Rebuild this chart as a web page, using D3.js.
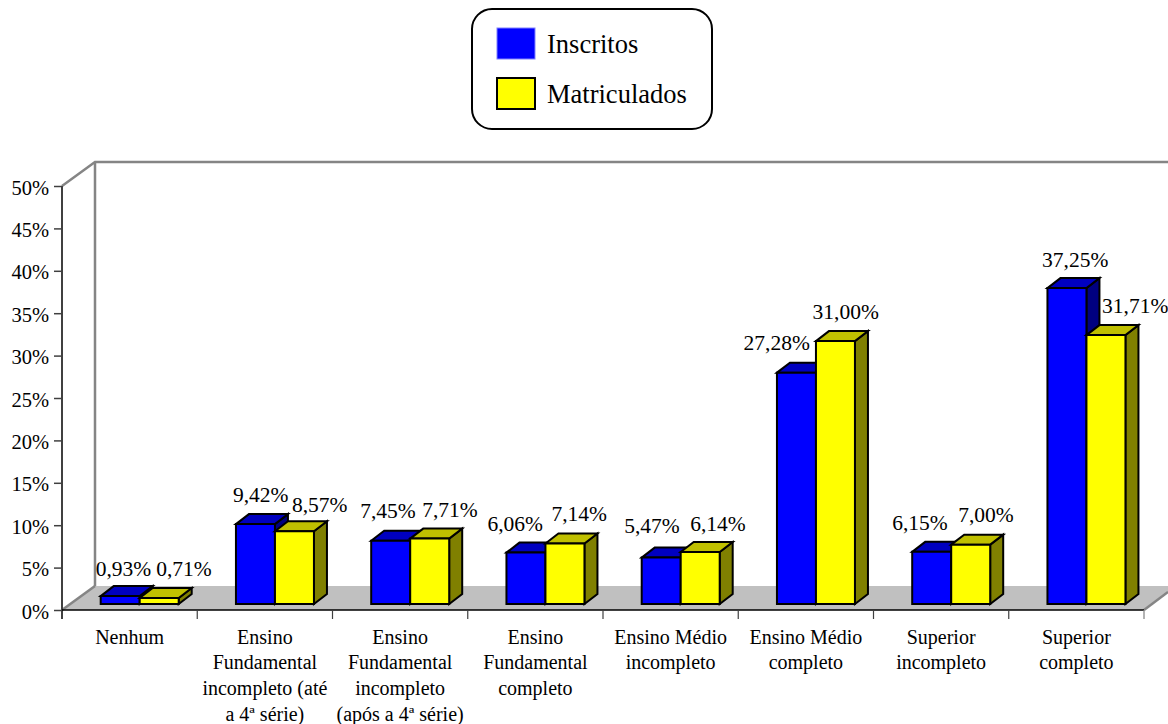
<!DOCTYPE html>
<html><head><meta charset="utf-8">
<script src="https://cdn.jsdelivr.net/npm/d3@7/dist/d3.min.js"></script>
<style>html,body{margin:0;padding:0;background:#fff;overflow:hidden}svg{display:block}text{font-family:"Liberation Serif","Times New Roman",serif;fill:#000}</style>
</head><body><svg id="c" width="1168" height="724"></svg>
<script>
const categories = [
  ["Nenhum"],
  ["Ensino","Fundamental","incompleto (até","a 4ª série)"],
  ["Ensino","Fundamental","incompleto","(após a 4ª série)"],
  ["Ensino","Fundamental","completo"],
  ["Ensino Médio","incompleto"],
  ["Ensino Médio","completo"],
  ["Superior","incompleto"],
  ["Superior","completo"]
];
const seriesNames = ["Inscritos","Matriculados"];
const inscritos = [0.93,9.42,7.45,6.06,5.47,27.28,6.15,37.25];
const matriculados = [0.71,8.57,7.71,7.14,6.14,31.00,7.00,31.71];
const yTicks = [0,5,10,15,20,25,30,35,40,45,50];
const fmt = v => v.toFixed(2).replace(".",",") + "%";

// layout
const L=62,R=1144,B=610,T=186,wx=33,wy=24,bx=13,by=10,baseLift=6;
const x=d3.scaleBand().domain(d3.range(categories.length)).range([L,R]);
const inner=d3.scaleBand().domain([0,1]).range([38.7,38.7+78]);
const y=d3.scaleLinear().domain([0,50]).range([B,T]);
const svg=d3.select("#c");
const line=d3.line();

// walls and floor
svg.append("path").attr("d",line([[L,B],[L+wx,B-wy],[1177,B-wy],[R,B]])+"Z").attr("fill","#c0c0c0");
const wall=[[[L,T],[L+wx,T-wy],[1170,T-wy]],[[L+wx,T-wy],[L+wx,B-wy]],[[L,B],[L+wx,B-wy]],[[R,B],[1168,B-18]]];
svg.selectAll(".w").data(wall).enter().append("path").attr("d",d=>line(d)).attr("fill","none").attr("stroke","#858585").attr("stroke-width",2.5);

// axes
const ya=d3.axisLeft(y).tickValues(yTicks).tickFormat(d=>d+"%").tickSize(8).tickSizeOuter(0);
const gy=svg.append("g").attr("transform",`translate(${L},0)`).call(ya);
gy.selectAll("line").attr("stroke","#404040").attr("stroke-width",1.5);
gy.select(".domain").attr("stroke","#404040").attr("stroke-width",2).attr("d",`M0,${T}V${B+9}`);
gy.selectAll("text").attr("font-size",20.5).attr("fill","#000").attr("font-family","Liberation Serif").attr("x",-13).attr("dy","0.39em");

svg.append("line").attr("x1",L).attr("x2",R).attr("y1",B).attr("y2",B).attr("stroke","#000").attr("stroke-width",1.5);
svg.selectAll(".t").data(d3.range(1,categories.length+1)).enter().append("line")
  .attr("x1",i=>L+i*x.step()).attr("x2",i=>L+i*x.step()).attr("y1",B).attr("y2",B+9)
  .attr("stroke",i=>i===categories.length?"#808080":"#404040").attr("stroke-width",1.2);

// category labels
const cat=svg.selectAll(".c").data(categories).enter().append("text")
  .attr("text-anchor","middle").attr("font-size",20);
cat.selectAll("tspan").data((d,i)=>d.map((s,j)=>({s,j,i}))).enter().append("tspan")
  .attr("x",d=>x(d.i)+x.step()/2).attr("y",d=>643.5+d.j*25.8).text(d=>d.s);

// bars
const palettes=[{f:"#0000ff",t:"#0000c0",s:"#000080"},{f:"#ffff00",t:"#c0c000",s:"#808000"}];
const series=[inscritos,matriculados];
categories.forEach((c,i)=>{
  series.forEach((vals,k)=>{
    const p=palettes[k],x0=x(i)+inner(k),w=inner.bandwidth(),y1=B-baseLift,y0=y(vals[i])-baseLift;
    const g=svg.append("g").attr("stroke","#000").attr("stroke-width",2).attr("stroke-linejoin","miter");
    g.append("path").attr("fill",p.s).attr("d",line([[x0+w,y0],[x0+w+bx,y0-by],[x0+w+bx,y1-by],[x0+w,y1]])+"Z");
    g.append("path").attr("fill",p.t).attr("d",line([[x0,y0],[x0+bx,y0-by],[x0+w+bx,y0-by],[x0+w,y0]])+"Z");
    g.append("path").attr("fill",p.f).attr("d",line([[x0,y0],[x0+w,y0],[x0+w,y1],[x0,y1]])+"Z");
  });
});

// value labels, nudged from the bar top the way the original was
const nudgeX=[[3.3,24.8],[5.3,25.3],[-2.7,20.3],[-10.7,14.3],[-9.2,17.8],[-19.7,10.3],[-11.7,15.3],[8.3,29.3]];
const nudgeY=[[-20.5,-21.5],[-22.5,-19.5],[-22.5,-21.5],[-21.5,-22],[-24.5,-20.5],[-22.5,-22.5],[-21.5,-23],[-21.5,-22.5]];
categories.forEach((c,i)=>{
  series.forEach((vals,k)=>{
    const cx=x(i)+inner(k)+inner.bandwidth()/2;
    svg.append("text").attr("text-anchor","middle").attr("font-size",21.5)
      .attr("x",cx+nudgeX[i][k]).attr("y",y(vals[i])-baseLift+nudgeY[i][k]).text(fmt(vals[i]));
  });
});

// legend
const lg=svg.append("g");
lg.append("rect").attr("x",472).attr("y",9).attr("width",240).attr("height",120).attr("rx",20).attr("fill","#fff").attr("stroke","#000").attr("stroke-width",2);
seriesNames.forEach((n,k)=>{
  lg.append("rect").attr("x",497).attr("y",28+k*50).attr("width",38).attr("height",31)
    .attr("fill",palettes[k].f).attr("stroke",k?"#000":"#8080ff").attr("stroke-width",k?2:1);
  lg.append("text").attr("x",547).attr("y",52.5+k*50).attr("font-size",26.5).text(n);
});
</script></body></html>
